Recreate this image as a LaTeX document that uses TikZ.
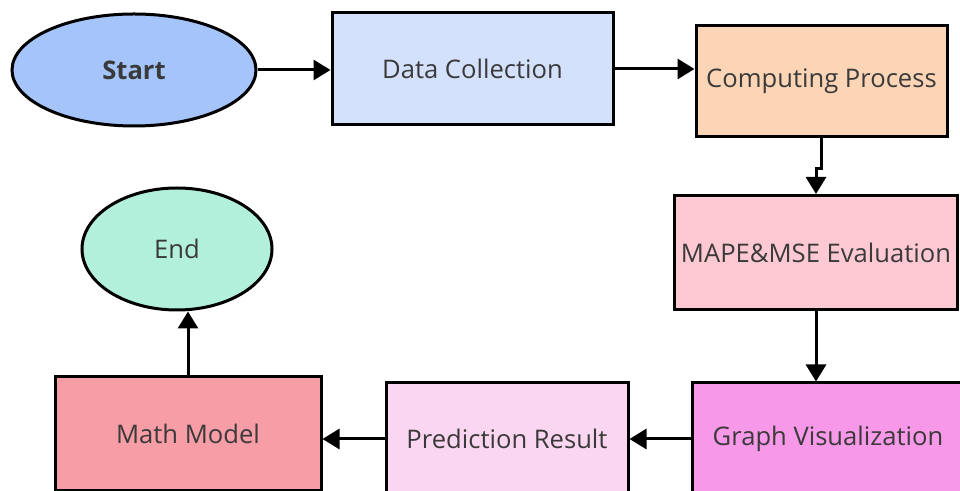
\documentclass[tikz,border=0pt]{standalone}
\usepackage{fontspec}
\setmainfont{Open Sans}
\usetikzlibrary{arrows.meta, shapes.geometric}

\begin{document}
\begin{tikzpicture}[x = 0.5pt, y = 0.5pt]
        \clip (0, 0) rectangle (960, -491);
        \definecolor{startblue}{RGB}{164,196,250}
        \definecolor{datablue}{RGB}{211,225,253}
        \definecolor{comppeach}{RGB}{252,212,182}
        \definecolor{evalpink}{RGB}{255,201,211}
        \definecolor{graphpink}{RGB}{247,153,232}
        \definecolor{predpink}{RGB}{251,214,240}
        \definecolor{modelred}{RGB}{247,157,166}
        \definecolor{endgreen}{RGB}{179,240,219}
        \definecolor{textgray}{RGB}{58,58,58}

        \tikzset{
          box/.style = {draw, rectangle, line width = 1.5pt, text = textgray, font = \fontsize{12.8}{15}\selectfont},
          oval/.style = {draw, ellipse, line width = 1.5pt, inner sep = 0pt, text = textgray, font = \fontsize{12.8}{15}\selectfont},
          arr/.style = {draw, -{Triangle[length = 8.5pt, width = 10pt]}, line width = 1.5pt}
        }

        \node[oval, minimum width = 122pt, minimum height = 56pt, fill = startblue] at (134, -70) (start) {\textbf{Start}};
        \node[box, minimum width = 140.5pt, minimum height = 56pt, fill = datablue] at (472.5, -69) (datacol) {Data Collection};
        \node[box, minimum width = 125.5pt, minimum height = 55.5pt, fill = comppeach] at (821.5, -81.5) (comp) {Computing Process};
        \node[box, minimum width = 141pt, minimum height = 57pt, fill = evalpink] at (816, -252.5) (eval) {MAPE\&MSE Evaluation};

        \node[box, minimum width = 136pt, minimum height = 56pt, fill = graphpink] at (828, -439) (graph) {Graph Visualization};
        \node[box, minimum width = 121pt, minimum height = 56pt, fill = predpink] at (507, -439) (pred) {Prediction Result};
        \node[box, minimum width = 133pt, minimum height = 57pt, fill = modelred] at (188, -434) (model) {Math Model};
        \node[oval, minimum width = 95pt, minimum height = 61pt, fill = endgreen] at (177, -249) (fin) {End};

        \path[arr] (start.east) -- (start.east -| datacol.west);
        \path[arr] (datacol.east) -- (datacol.east -| comp.west);
        \path[arr] (comp.south) -- ++(0, -30) -| (eval.north);
        \path[arr] (eval.south) -- (eval.south |- graph.north);
        \path[arr] (graph.west) -- (pred.east);
        \path[arr] (pred.west) -- (pred.west -| model.east);
        \path[arr] (model.north) -- (model.north |- fin.south);
\end{tikzpicture}
\end{document}
